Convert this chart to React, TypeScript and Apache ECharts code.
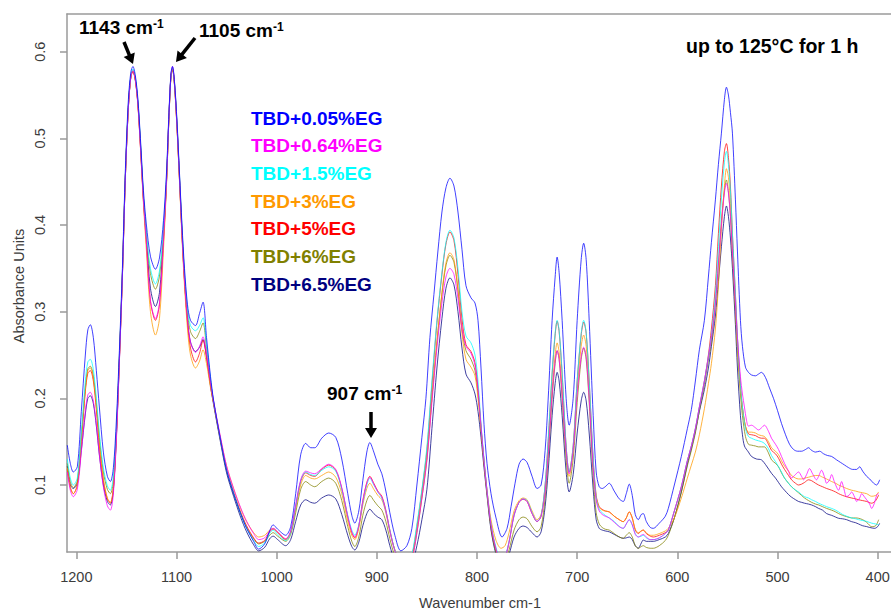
import React, { useEffect, useRef } from 'react';
import * as echarts from 'echarts';

const seriesNames = ['TBD+0.05%EG', 'TBD+0.64%EG', 'TBD+1.5%EG', 'TBD+3%EG', 'TBD+5%EG', 'TBD+6%EG', 'TBD+6.5%EG'];
const seriesColors = ['#0000FF', '#FF00FF', '#00FFFF', '#FF9900', '#FF0000', '#808000', '#000080'];
const xTicks = [1200, 1100, 1000, 900, 800, 700, 600, 500, 400];
const yTicks = [0.1, 0.2, 0.3, 0.4, 0.5, 0.6];

const tbd005: [number, number][] = [
  [1209,0.146],[1206,0.125],[1203,0.115],[1199,0.121],[1195,0.185],[1191,0.25],[1188.5,0.279],[1186,0.285],[1183,0.27],[1180,0.232],[1177,0.19],[1173,0.138],[1169,0.11],[1166,0.104],[1163,0.12],[1160,0.175],[1157,0.255],[1154,0.35],[1151,0.465],[1148,0.545],[1145.5,0.577],[1143.5,0.583],[1141,0.572],[1138.5,0.545],[1136,0.5],[1133,0.44],[1130,0.4],[1126,0.364],[1121,0.349],[1117,0.362],[1113,0.405],[1110,0.46],[1107.5,0.53],[1105.5,0.575],[1104,0.583],[1102,0.566],[1099.5,0.52],[1097,0.46],[1094.5,0.4],[1092,0.35],[1089,0.308],[1086,0.29],[1081,0.284],[1077,0.298],[1073.5,0.311],[1070,0.27],[1066,0.225],[1063,0.198],[1056,0.152],[1050,0.117],[1043,0.09],[1036,0.067],[1030,0.05],[1023,0.035],[1018,0.026],[1012,0.032],[1007,0.047],[1003.5,0.054],[999,0.049],[991,0.042],[986,0.052],[981,0.09],[976,0.135],[971,0.148],[966,0.143],[962,0.143],[955,0.154],[948,0.16],[941,0.155],[935,0.13],[929,0.09],[925,0.065],[922,0.056],[918,0.07],[914,0.105],[910,0.138],[907,0.149],[903,0.138],[899,0.124],[895,0.113],[891,0.093],[887,0.068],[882,0.042],[876,0.024],[870,0.03],[865,0.05],[860,0.1],[855,0.155],[851,0.2],[847,0.27],[843,0.32],[839,0.37],[835,0.415],[831,0.443],[827,0.454],[823,0.445],[819,0.415],[815,0.372],[811,0.33],[806,0.316],[802,0.31],[799,0.29],[796,0.235],[793,0.17],[790,0.125],[786,0.09],[781,0.062],[775,0.04],[770,0.05],[766,0.075],[762,0.102],[758,0.124],[754,0.13],[750,0.126],[745,0.11],[740,0.096],[736,0.1],[732,0.14],[729,0.198],[725,0.29],[722,0.34],[720,0.363],[718,0.345],[715,0.29],[711,0.2],[708,0.169],[704,0.2],[700,0.29],[696,0.36],[693.5,0.379],[691,0.36],[688,0.29],[684,0.18],[681,0.115],[678,0.098],[675,0.096],[672,0.098],[668,0.102],[663,0.093],[658,0.084],[654,0.081],[651,0.09],[648,0.101],[645,0.088],[642,0.066],[639,0.06],[636,0.066],[634,0.067],[631,0.058],[627,0.051],[624,0.05],[618,0.056],[612,0.064],[609,0.073],[603,0.1],[596,0.133],[590,0.165],[586,0.187],[582,0.22],[578,0.256],[573,0.29],[569,0.34],[566,0.38],[562,0.429],[559,0.47],[556,0.506],[553,0.545],[551,0.559],[549,0.55],[547,0.53],[545,0.506],[542,0.429],[540,0.37],[537,0.29],[535,0.26],[532,0.236],[529,0.23],[526,0.227],[522,0.226],[519,0.228],[516,0.23],[512,0.224],[508,0.212],[504,0.2],[500,0.186],[496,0.171],[492,0.158],[488,0.147],[484,0.141],[480,0.139],[476,0.139],[472,0.141],[469,0.143],[466,0.14],[462,0.138],[458,0.139],[454,0.136],[450,0.134],[446,0.133],[441,0.129],[437,0.126],[433,0.123],[429,0.12],[425,0.118],[421,0.118],[418,0.121],[415,0.116],[411,0.11],[408,0.107],[404,0.102],[401,0.1],[398,0.106]
];

const tbd064: [number, number][] = [
  [1209,0.115],[1206,0.094],[1203,0.0865],[1199,0.095],[1195,0.138],[1191,0.185],[1188.5,0.204],[1186,0.207],[1183,0.197],[1180,0.17],[1177,0.135],[1173,0.098],[1169,0.076],[1166,0.071],[1163,0.09],[1160,0.152],[1157,0.242],[1154,0.34],[1151,0.456],[1148,0.536],[1145.5,0.572],[1143.5,0.578],[1141,0.567],[1138.5,0.539],[1136,0.491],[1133,0.429],[1130,0.379],[1126,0.313],[1121,0.292],[1117,0.31],[1113,0.382],[1110,0.45],[1107.5,0.527],[1105.5,0.574],[1104,0.583],[1102,0.564],[1099.5,0.515],[1097,0.455],[1094.5,0.39],[1092,0.337],[1089,0.29],[1086,0.265],[1081,0.253],[1077,0.26],[1073.5,0.271],[1070,0.25],[1066,0.218],[1063,0.197],[1056,0.155],[1050,0.122],[1043,0.096],[1036,0.074],[1030,0.058],[1023,0.044],[1018,0.037],[1012,0.039],[1007,0.047],[1003.5,0.05],[999,0.046],[991,0.038],[986,0.047],[981,0.077],[976,0.106],[971,0.116],[966,0.114],[962,0.113],[955,0.119],[948,0.124],[941,0.118],[935,0.097],[929,0.064],[925,0.046],[922,0.04],[918,0.053],[914,0.081],[910,0.102],[907,0.109],[903,0.101],[899,0.092],[895,0.086],[891,0.07],[887,0.047],[882,0.024],[876,0.009],[870,0.007],[865,0.014],[860,0.045],[855,0.085],[850,0.128],[845,0.195],[840,0.258],[835,0.31],[831,0.34],[827,0.35],[823,0.343],[819,0.315],[815,0.28],[811,0.26],[806,0.252],[802,0.238],[799,0.21],[796,0.168],[793,0.128],[790,0.093],[786,0.054],[781,0.026],[776,0.014],[772,0.017],[768,0.034],[763,0.065],[758,0.08],[754,0.084],[750,0.081],[745,0.067],[740,0.058],[736,0.064],[732,0.092],[729,0.135],[725,0.205],[722,0.243],[720,0.255],[718,0.245],[715,0.205],[711,0.14],[708,0.113],[704,0.14],[700,0.205],[696,0.248],[693.5,0.259],[691,0.248],[688,0.2],[684,0.12],[681,0.082],[678,0.07],[675,0.066],[672,0.064],[668,0.062],[663,0.057],[658,0.052],[654,0.05],[651,0.055],[648,0.06],[645,0.054],[642,0.043],[639,0.04],[636,0.042],[634,0.043],[631,0.04],[627,0.037],[624,0.037],[618,0.039],[612,0.044],[609,0.048],[603,0.07],[596,0.098],[590,0.128],[586,0.145],[582,0.165],[578,0.19],[573,0.22],[569,0.248],[566,0.27],[562,0.31],[559,0.355],[556,0.4],[553,0.437],[551,0.448],[549,0.437],[547,0.41],[545,0.37],[542,0.31],[540,0.27],[537,0.225],[535,0.205],[533,0.19],[531,0.175],[529,0.168],[526,0.169],[522,0.166],[519,0.1635],[516,0.166],[513,0.169],[509,0.162],[506,0.154],[502,0.147],[499,0.141],[496,0.133],[493,0.125],[489,0.116],[486,0.108],[483,0.111],[479,0.115],[476,0.11],[474,0.106],[471,0.112],[468,0.119],[465,0.113],[461,0.106],[459,0.11],[456,0.117],[453,0.109],[451,0.102],[448,0.106],[446,0.112],[443,0.103],[439,0.094],[436,0.104],[434,0.097],[431,0.0865],[428,0.089],[426,0.092],[423,0.086],[421,0.081],[418,0.085],[416,0.09],[413,0.086],[411,0.083],[408,0.078],[406,0.073],[403,0.08],[401,0.0885],[399,0.09]
];

const tbd15: [number, number][] = [
  [1209,0.13],[1206,0.108],[1203,0.1],[1199,0.108],[1195,0.16],[1191,0.22],[1188.5,0.242],[1186,0.245],[1183,0.233],[1180,0.2],[1177,0.16],[1173,0.12],[1169,0.099],[1166,0.094],[1163,0.11],[1160,0.165],[1157,0.25],[1154,0.345],[1151,0.46],[1148,0.54],[1145.5,0.574],[1143.5,0.58],[1141,0.57],[1138.5,0.543],[1136,0.497],[1133,0.435],[1130,0.39],[1126,0.35],[1121,0.332],[1117,0.347],[1113,0.395],[1110,0.455],[1107.5,0.528],[1105.5,0.574],[1104,0.582],[1102,0.565],[1099.5,0.518],[1097,0.458],[1094.5,0.397],[1092,0.345],[1089,0.303],[1086,0.284],[1081,0.278],[1077,0.284],[1073.5,0.293],[1070,0.262],[1066,0.222],[1063,0.197],[1056,0.152],[1050,0.118],[1043,0.091],[1036,0.067],[1030,0.05],[1023,0.036],[1018,0.029],[1012,0.033],[1007,0.044],[1003.5,0.048],[999,0.043],[991,0.036],[986,0.045],[981,0.075],[976,0.105],[971,0.115],[966,0.112],[962,0.111],[955,0.117],[948,0.121],[941,0.116],[935,0.095],[929,0.065],[925,0.048],[922,0.042],[918,0.054],[914,0.08],[910,0.1],[907,0.108],[903,0.1],[899,0.092],[895,0.085],[891,0.07],[887,0.048],[882,0.025],[876,0.01],[870,0.008],[865,0.02],[860,0.055],[855,0.095],[850,0.144],[845,0.22],[840,0.29],[835,0.345],[831,0.38],[827,0.394],[823,0.385],[819,0.35],[815,0.3],[811,0.272],[806,0.264],[802,0.25],[799,0.22],[796,0.171],[793,0.13],[790,0.094],[786,0.055],[781,0.028],[776,0.015],[772,0.018],[768,0.035],[763,0.065],[758,0.08],[754,0.084],[750,0.082],[745,0.068],[740,0.058],[736,0.065],[732,0.1],[729,0.15],[725,0.23],[722,0.275],[720,0.29],[718,0.278],[715,0.23],[711,0.145],[708,0.115],[704,0.145],[700,0.22],[696,0.275],[693.5,0.29],[691,0.276],[688,0.22],[684,0.13],[681,0.085],[678,0.072],[675,0.068],[672,0.065],[668,0.062],[663,0.058],[658,0.052],[654,0.05],[651,0.055],[648,0.06],[645,0.054],[642,0.044],[639,0.04],[636,0.041],[634,0.042],[631,0.039],[627,0.037],[624,0.037],[618,0.039],[612,0.044],[609,0.048],[603,0.07],[596,0.098],[590,0.128],[586,0.145],[582,0.165],[578,0.19],[573,0.22],[569,0.248],[566,0.272],[562,0.32],[559,0.375],[556,0.43],[553,0.472],[551,0.485],[549,0.47],[547,0.44],[545,0.39],[542,0.32],[540,0.27],[537,0.215],[535,0.19],[532,0.165],[529,0.156],[526,0.154],[522,0.152],[519,0.151],[516,0.15],[513,0.148],[509,0.142],[506,0.134],[502,0.127],[499,0.121],[496,0.115],[493,0.108],[489,0.102],[486,0.098],[482,0.094],[479,0.092],[476,0.089],[473,0.0865],[469,0.085],[466,0.083],[462,0.081],[459,0.079],[455,0.077],[451,0.075],[446,0.073],[442,0.071],[439,0.069],[435,0.066],[431,0.064],[426,0.062],[422,0.061],[419,0.06],[415,0.059],[411,0.058],[406,0.056],[402,0.055],[399,0.054]
];

const tbd3: [number, number][] = [
  [1209,0.12],[1206,0.098],[1203,0.09],[1199,0.1],[1195,0.152],[1191,0.21],[1188.5,0.232],[1186,0.235],[1183,0.223],[1180,0.19],[1177,0.148],[1173,0.107],[1169,0.085],[1166,0.08],[1163,0.097],[1160,0.158],[1157,0.245],[1154,0.343],[1151,0.457],[1148,0.537],[1145.5,0.572],[1143.5,0.578],[1141,0.567],[1138.5,0.538],[1136,0.49],[1133,0.425],[1130,0.37],[1126,0.3],[1121,0.273],[1117,0.292],[1113,0.372],[1110,0.445],[1107.5,0.524],[1105.5,0.572],[1104,0.58],[1102,0.562],[1099.5,0.512],[1097,0.45],[1094.5,0.385],[1092,0.33],[1089,0.28],[1086,0.25],[1081,0.235],[1077,0.243],[1073.5,0.256],[1070,0.24],[1066,0.212],[1063,0.195],[1056,0.154],[1050,0.122],[1043,0.096],[1036,0.073],[1030,0.058],[1023,0.045],[1018,0.04],[1012,0.042],[1007,0.048],[1003.5,0.05],[999,0.046],[991,0.038],[986,0.045],[981,0.072],[976,0.1],[971,0.111],[966,0.108],[962,0.107],[955,0.111],[948,0.115],[941,0.109],[935,0.09],[929,0.058],[925,0.042],[922,0.037],[918,0.05],[914,0.077],[910,0.096],[907,0.102],[903,0.095],[899,0.088],[895,0.083],[891,0.068],[887,0.046],[882,0.025],[876,0.01],[870,0.008],[865,0.016],[860,0.048],[855,0.088],[850,0.132],[845,0.2],[840,0.265],[835,0.322],[831,0.356],[827,0.368],[823,0.36],[819,0.325],[815,0.275],[811,0.245],[806,0.236],[802,0.226],[799,0.2],[796,0.165],[793,0.128],[790,0.094],[786,0.06],[781,0.036],[776,0.027],[772,0.03],[768,0.045],[763,0.07],[758,0.082],[754,0.085],[750,0.083],[745,0.07],[740,0.06],[736,0.066],[732,0.095],[729,0.14],[725,0.21],[722,0.25],[720,0.264],[718,0.253],[715,0.21],[711,0.14],[708,0.11],[704,0.14],[700,0.21],[696,0.26],[693.5,0.273],[691,0.26],[688,0.21],[684,0.125],[681,0.085],[678,0.074],[675,0.071],[672,0.07],[668,0.069],[663,0.064],[658,0.06],[654,0.0577],[651,0.062],[648,0.069],[645,0.062],[642,0.049],[639,0.045],[636,0.047],[634,0.048],[631,0.045],[627,0.042],[624,0.042],[618,0.044],[612,0.047],[609,0.05],[603,0.062],[596,0.085],[590,0.108],[586,0.123],[582,0.138],[578,0.158],[573,0.188],[569,0.217],[566,0.24],[562,0.28],[559,0.33],[556,0.395],[553,0.445],[551,0.465],[549,0.455],[547,0.425],[545,0.375],[542,0.31],[540,0.26],[537,0.21],[535,0.188],[532,0.168],[529,0.161],[526,0.161],[522,0.16],[519,0.158],[516,0.157],[513,0.156],[509,0.15],[506,0.143],[502,0.139],[499,0.135],[496,0.128],[493,0.122],[489,0.116],[486,0.111],[482,0.108],[479,0.107],[476,0.107],[473,0.108],[469,0.109],[466,0.11],[462,0.111],[459,0.111],[455,0.109],[451,0.107],[446,0.104],[442,0.102],[439,0.1],[435,0.098],[431,0.096],[426,0.094],[422,0.093],[419,0.092],[415,0.091],[411,0.09],[406,0.087],[402,0.088],[399,0.092]
];

const tbd5: [number, number][] = [
  [1209,0.118],[1206,0.097],[1203,0.09],[1199,0.1],[1195,0.15],[1191,0.208],[1188.5,0.229],[1186,0.232],[1183,0.22],[1180,0.187],[1177,0.145],[1173,0.105],[1169,0.084],[1166,0.079],[1163,0.096],[1160,0.157],[1157,0.245],[1154,0.342],[1151,0.456],[1148,0.536],[1145.5,0.571],[1143.5,0.577],[1141,0.566],[1138.5,0.538],[1136,0.49],[1133,0.428],[1130,0.378],[1126,0.312],[1121,0.29],[1117,0.308],[1113,0.38],[1110,0.448],[1107.5,0.525],[1105.5,0.572],[1104,0.58],[1102,0.562],[1099.5,0.513],[1097,0.452],[1094.5,0.388],[1092,0.335],[1089,0.287],[1086,0.258],[1081,0.242],[1077,0.252],[1073.5,0.267],[1070,0.247],[1066,0.215],[1063,0.195],[1056,0.152],[1050,0.119],[1043,0.092],[1036,0.069],[1030,0.053],[1023,0.039],[1018,0.033],[1012,0.036],[1007,0.046],[1003.5,0.049],[999,0.045],[991,0.037],[986,0.046],[981,0.075],[976,0.104],[971,0.114],[966,0.111],[962,0.11],[955,0.118],[948,0.123],[941,0.117],[935,0.096],[929,0.063],[925,0.045],[922,0.039],[918,0.053],[914,0.082],[910,0.103],[907,0.11],[903,0.102],[899,0.093],[895,0.087],[891,0.071],[887,0.048],[882,0.025],[876,0.01],[870,0.008],[865,0.018],[860,0.052],[855,0.093],[850,0.14],[845,0.215],[840,0.287],[835,0.343],[831,0.378],[827,0.392],[823,0.382],[819,0.343],[815,0.292],[811,0.262],[806,0.254],[802,0.241],[799,0.212],[796,0.168],[793,0.128],[790,0.093],[786,0.054],[781,0.026],[776,0.014],[772,0.017],[768,0.034],[763,0.065],[758,0.08],[754,0.0835],[750,0.081],[745,0.067],[740,0.0577],[736,0.064],[732,0.1],[729,0.15],[725,0.228],[722,0.273],[720,0.289],[718,0.277],[715,0.228],[711,0.145],[708,0.115],[704,0.145],[700,0.22],[696,0.273],[693.5,0.288],[691,0.275],[688,0.22],[684,0.13],[681,0.088],[678,0.075],[675,0.072],[672,0.07],[668,0.069],[663,0.064],[658,0.06],[654,0.0577],[651,0.062],[648,0.069],[645,0.062],[642,0.048],[639,0.044],[636,0.047],[634,0.048],[631,0.044],[627,0.041],[624,0.04],[618,0.042],[612,0.045],[609,0.048],[603,0.07],[596,0.098],[590,0.128],[586,0.145],[582,0.165],[578,0.19],[573,0.22],[569,0.25],[566,0.28],[562,0.33],[559,0.39],[556,0.445],[553,0.485],[551,0.494],[549,0.478],[547,0.445],[545,0.39],[542,0.32],[540,0.27],[537,0.215],[535,0.19],[532,0.168],[529,0.159],[526,0.158],[522,0.157],[519,0.155],[516,0.154],[513,0.154],[509,0.147],[506,0.14],[502,0.136],[499,0.131],[496,0.124],[493,0.118],[489,0.111],[486,0.106],[482,0.102],[479,0.1],[476,0.101],[473,0.103],[469,0.106],[466,0.105],[462,0.102],[459,0.1],[455,0.098],[451,0.096],[446,0.094],[442,0.092],[439,0.09],[435,0.088],[431,0.0865],[426,0.085],[422,0.084],[419,0.083],[415,0.082],[411,0.081],[406,0.079],[402,0.082],[399,0.0885]
];

const tbd6: [number, number][] = [
  [1209,0.125],[1206,0.104],[1203,0.097],[1199,0.105],[1195,0.155],[1191,0.213],[1188.5,0.234],[1186,0.237],[1183,0.226],[1180,0.195],[1177,0.155],[1173,0.115],[1169,0.095],[1166,0.09],[1163,0.105],[1160,0.162],[1157,0.248],[1154,0.344],[1151,0.458],[1148,0.538],[1145.5,0.572],[1143.5,0.578],[1141,0.568],[1138.5,0.541],[1136,0.495],[1133,0.433],[1130,0.387],[1126,0.344],[1121,0.326],[1117,0.341],[1113,0.39],[1110,0.452],[1107.5,0.526],[1105.5,0.573],[1104,0.581],[1102,0.564],[1099.5,0.517],[1097,0.456],[1094.5,0.395],[1092,0.342],[1089,0.298],[1086,0.277],[1081,0.269],[1077,0.277],[1073.5,0.287],[1070,0.258],[1066,0.22],[1063,0.196],[1056,0.151],[1050,0.117],[1043,0.09],[1036,0.067],[1030,0.051],[1023,0.038],[1018,0.032],[1012,0.035],[1007,0.042],[1003.5,0.045],[999,0.041],[991,0.035],[986,0.043],[981,0.068],[976,0.095],[971,0.104],[966,0.1],[962,0.098],[955,0.104],[948,0.108],[941,0.102],[935,0.082],[929,0.052],[925,0.035],[922,0.029],[918,0.04],[914,0.065],[910,0.082],[907,0.088],[903,0.082],[899,0.076],[895,0.071],[891,0.058],[887,0.038],[882,0.018],[876,0.006],[870,0.005],[865,0.015],[860,0.045],[855,0.085],[850,0.13],[845,0.2],[840,0.265],[835,0.32],[831,0.353],[827,0.365],[823,0.357],[819,0.325],[815,0.28],[811,0.255],[806,0.245],[802,0.232],[799,0.205],[796,0.165],[793,0.125],[790,0.09],[786,0.05],[781,0.022],[776,0.01],[772,0.012],[768,0.025],[763,0.048],[758,0.06],[754,0.063],[750,0.061],[745,0.052],[740,0.046],[736,0.052],[732,0.085],[729,0.13],[725,0.2],[722,0.24],[720,0.255],[718,0.245],[715,0.2],[711,0.13],[708,0.102],[704,0.13],[700,0.195],[696,0.245],[693.5,0.258],[691,0.245],[688,0.195],[684,0.11],[681,0.068],[678,0.055],[675,0.051],[672,0.049],[668,0.048],[663,0.044],[658,0.04],[654,0.0385],[651,0.042],[648,0.045],[645,0.04],[642,0.03],[639,0.027],[636,0.029],[634,0.03],[631,0.028],[627,0.027],[624,0.027],[618,0.03],[612,0.036],[609,0.042],[603,0.062],[596,0.092],[590,0.122],[586,0.14],[582,0.16],[578,0.186],[573,0.216],[569,0.244],[566,0.265],[562,0.31],[559,0.355],[556,0.405],[553,0.44],[551,0.452],[549,0.438],[547,0.41],[545,0.365],[542,0.3],[540,0.255],[537,0.205],[535,0.18],[532,0.156],[529,0.147],[526,0.146],[522,0.145],[519,0.144],[516,0.144],[513,0.144],[509,0.137],[506,0.129],[502,0.125],[499,0.121],[496,0.114],[493,0.108],[489,0.102],[486,0.098],[482,0.094],[479,0.091],[476,0.088],[473,0.085],[469,0.082],[466,0.08],[462,0.078],[459,0.077],[455,0.075],[451,0.073],[446,0.071],[442,0.069],[439,0.067],[435,0.065],[431,0.0635],[426,0.062],[422,0.062],[419,0.0616],[415,0.06],[411,0.057],[406,0.052],[402,0.053],[399,0.06]
];

const tbd65: [number, number][] = [
  [1209,0.122],[1206,0.1],[1203,0.096],[1199,0.102],[1195,0.14],[1191,0.182],[1188.5,0.2],[1186,0.203],[1183,0.194],[1180,0.168],[1177,0.135],[1173,0.1],[1169,0.081],[1166,0.077],[1163,0.094],[1160,0.155],[1157,0.243],[1154,0.341],[1151,0.456],[1148,0.536],[1145.5,0.572],[1143.5,0.578],[1141,0.567],[1138.5,0.54],[1136,0.493],[1133,0.431],[1130,0.384],[1126,0.327],[1121,0.306],[1117,0.322],[1113,0.386],[1110,0.449],[1107.5,0.525],[1105.5,0.572],[1104,0.58],[1102,0.562],[1099.5,0.514],[1097,0.453],[1094.5,0.39],[1092,0.337],[1089,0.29],[1086,0.265],[1081,0.254],[1077,0.259],[1073.5,0.268],[1070,0.248],[1066,0.214],[1063,0.193],[1056,0.149],[1050,0.114],[1043,0.087],[1036,0.063],[1030,0.046],[1023,0.031],[1018,0.024],[1012,0.028],[1007,0.038],[1003.5,0.041],[999,0.037],[991,0.03],[986,0.037],[981,0.058],[976,0.077],[971,0.083],[966,0.08],[962,0.079],[955,0.085],[948,0.0885],[941,0.084],[935,0.066],[929,0.042],[925,0.029],[922,0.025],[918,0.034],[914,0.053],[910,0.067],[907,0.072],[903,0.067],[899,0.063],[895,0.06],[891,0.048],[887,0.03],[882,0.012],[876,0.004],[870,0.003],[865,0.008],[860,0.03],[855,0.06],[850,0.095],[845,0.165],[840,0.235],[835,0.292],[831,0.327],[827,0.339],[823,0.331],[819,0.3],[815,0.258],[811,0.228],[806,0.218],[802,0.205],[799,0.185],[796,0.155],[793,0.12],[790,0.088],[786,0.048],[781,0.02],[776,0.008],[772,0.01],[768,0.02],[763,0.04],[758,0.05],[754,0.0527],[750,0.051],[745,0.045],[740,0.04],[736,0.046],[732,0.075],[729,0.115],[725,0.18],[722,0.217],[720,0.23],[718,0.22],[715,0.18],[711,0.115],[708,0.092],[704,0.112],[700,0.16],[696,0.197],[693.5,0.207],[691,0.197],[688,0.16],[684,0.095],[681,0.06],[678,0.05],[675,0.048],[672,0.047],[668,0.046],[663,0.043],[658,0.04],[654,0.0385],[651,0.039],[648,0.04],[645,0.037],[642,0.03],[639,0.027],[636,0.033],[634,0.0365],[631,0.035],[627,0.035],[624,0.035],[618,0.037],[612,0.04],[609,0.044],[603,0.062],[596,0.092],[590,0.124],[586,0.142],[582,0.162],[578,0.185],[573,0.21],[569,0.235],[566,0.26],[562,0.295],[559,0.335],[556,0.375],[553,0.41],[551,0.422],[549,0.41],[547,0.385],[545,0.35],[542,0.285],[540,0.235],[537,0.18],[535,0.158],[533,0.145],[529,0.138],[526,0.133],[521,0.13],[516,0.129],[511,0.122],[506,0.1135],[502,0.108],[499,0.103],[496,0.098],[493,0.094],[489,0.089],[486,0.086],[482,0.083],[479,0.081],[476,0.08],[473,0.079],[469,0.078],[466,0.077],[462,0.075],[459,0.073],[455,0.071],[451,0.067],[446,0.065],[442,0.063],[439,0.0616],[435,0.061],[431,0.06],[426,0.0577],[422,0.0565],[419,0.055],[415,0.053],[411,0.052],[408,0.051],[403,0.05],[400,0.052],[398,0.0558]
];

const spectra = [tbd005, tbd064, tbd15, tbd3, tbd5, tbd6, tbd65];

const FONT = "'Liberation Sans', Arial, sans-serif";

function arrow(x1: number, y1: number, x2: number, y2: number) {
  const dx = x2 - x1;
  const dy = y2 - y1;
  const len = Math.sqrt(dx * dx + dy * dy);
  const ux = dx / len;
  const uy = dy / len;
  const headLen = 10;
  const headHalf = 6;
  const bx = x2 - ux * headLen;
  const by = y2 - uy * headLen;
  return [
    {
      type: 'line',
      shape: { x1, y1, x2: bx + ux, y2: by + uy },
      style: { stroke: '#000', lineWidth: 3.5 },
      z: 100,
    },
    {
      type: 'polygon',
      shape: {
        points: [
          [x2, y2],
          [bx - uy * headHalf, by + ux * headHalf],
          [bx + uy * headHalf, by - ux * headHalf],
        ],
      },
      style: { fill: '#000' },
      z: 100,
    },
  ];
}

function peakLabel(text: string, x: number, y: number) {
  return {
    type: 'text',
    x,
    y,
    z: 100,
    style: {
      text: `{a|${text}}{s|-1}`,
      align: 'left',
      verticalAlign: 'middle',
      rich: {
        a: { fontSize: 19, fontWeight: 'bold', fontFamily: FONT, fill: '#000', verticalAlign: 'bottom' },
        s: { fontSize: 12, fontWeight: 'bold', fontFamily: FONT, fill: '#000', verticalAlign: 'top' },
      },
    },
  };
}

export default function App() {
  const ref = useRef<HTMLDivElement>(null);
  useEffect(() => {
    const chart = echarts.init(ref.current!, null, { renderer: 'svg' });
    const axisColor = '#9a9a9a';
    const labelColor = '#3c3c3c';
    const legendTexts = seriesNames.map((name, i) => ({
      type: 'text',
      x: 251,
      y: 118 + i * 27.7,
      z: 100,
      style: {
        text: name,
        fill: seriesColors[i],
        fontSize: 19,
        fontWeight: 'bold',
        fontFamily: FONT,
        align: 'left',
        verticalAlign: 'middle',
      },
    }));
    chart.setOption({
      animation: false,
      backgroundColor: '#ffffff',
      grid: { left: 67, right: 0, top: 14, bottom: 60, containLabel: false, outerBoundsMode: 'none' },
      xAxis: [
        {
          type: 'value',
          inverse: true,
          min: 386.7,
          max: 1209.3,
          position: 'bottom',
          axisLine: { show: true, onZero: false, lineStyle: { color: axisColor, width: 1.5 } },
          axisTick: { show: true, length: 7, customValues: xTicks, lineStyle: { color: axisColor, width: 1.5 } },
          axisLabel: {
            customValues: xTicks,
            margin: 17,
            fontSize: 14.5,
            color: labelColor,
            fontFamily: FONT,
            formatter: (v: number) => String(Math.round(v)),
          },
          splitLine: { show: false },
        },
        {
          type: 'value',
          inverse: true,
          min: 386.7,
          max: 1209.3,
          position: 'top',
          axisLine: { show: true, onZero: false, lineStyle: { color: axisColor, width: 1.5 } },
          axisTick: { show: false },
          axisLabel: { show: false },
          splitLine: { show: false },
        },
      ],
      yAxis: {
        type: 'value',
        min: 0.0227,
        max: 0.6435,
        axisLine: { show: true, onZero: false, lineStyle: { color: axisColor, width: 1.5 } },
        axisTick: { show: true, length: 7, customValues: yTicks, lineStyle: { color: axisColor, width: 1.5 } },
        axisLabel: {
          customValues: yTicks,
          rotate: 90,
          margin: 20,
          fontSize: 14.5,
          color: labelColor,
          fontFamily: FONT,
          formatter: (v: number) => v.toFixed(1),
        },
        splitLine: { show: false },
      },
      series: spectra.map((d, i) => ({
        type: 'line',
        name: seriesNames[i],
        data: d,
        xAxisIndex: 0,
        yAxisIndex: 0,
        showSymbol: false,
        symbol: 'none',
        smooth: 0.3,
        clip: true,
        silent: true,
        lineStyle: { width: 1, color: seriesColors[i], opacity: 0.75 },
        itemStyle: { color: seriesColors[i] },
        z: 2 + (6 - i) * 0.01,
      })),
      graphic: [
        ...legendTexts,
        peakLabel('1143 cm', 79, 27),
        peakLabel('1105 cm', 199, 30),
        peakLabel('907 cm', 327, 393),
        ...arrow(124, 42, 133, 64),
        ...arrow(195, 38, 176, 62),
        ...arrow(371, 412, 371, 438),
        {
          type: 'text',
          x: 686,
          y: 46,
          z: 100,
          style: {
            text: 'up to 125°C for 1 h',
            fill: '#000',
            fontSize: 19.5,
            fontWeight: 'bold',
            fontFamily: FONT,
            align: 'left',
            verticalAlign: 'middle',
          },
        },
        {
          type: 'text',
          x: 480,
          y: 603,
          style: {
            text: 'Wavenumber cm-1',
            fill: labelColor,
            fontSize: 14.5,
            fontFamily: FONT,
            align: 'center',
            verticalAlign: 'middle',
          },
        },
        {
          type: 'text',
          x: 19,
          y: 286,
          rotation: Math.PI / 2,
          style: {
            text: 'Absorbance Units',
            fill: labelColor,
            fontSize: 14.5,
            fontFamily: FONT,
            align: 'center',
            verticalAlign: 'middle',
          },
        },
      ],
    });
    return () => chart.dispose();
  }, []);
  return <div ref={ref} style={{ position: 'absolute', left: 0, top: 0, width: 891, height: 612 }} />;
}
